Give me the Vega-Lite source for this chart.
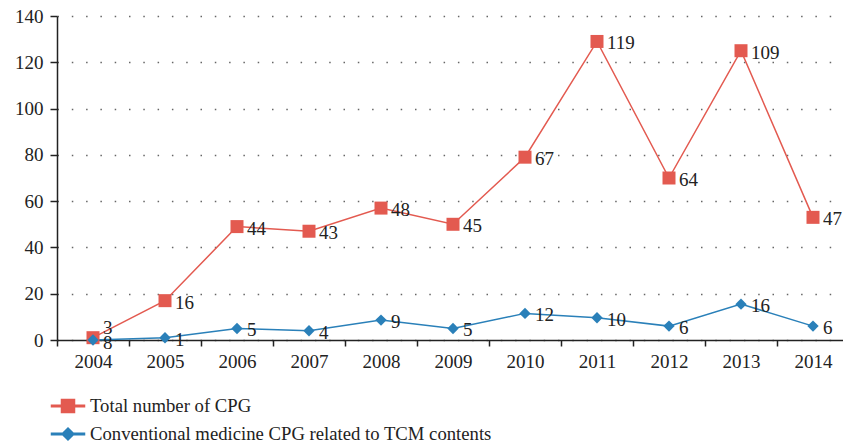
{
  "$schema": "https://vega.github.io/schema/vega-lite/v6.json",
  "width": 786,
  "height": 324,
  "autosize": {"type": "none"},
  "padding": {"left": 57, "top": 16, "right": 0, "bottom": 104},
  "background": "white",
  "config": {"view": {"stroke": null}, "font": "Liberation Serif"},
  "data": {
    "values": [
      {"year": "2004", "series": "Total number of CPG", "plot": 1, "label": "3"},
      {"year": "2005", "series": "Total number of CPG", "plot": 17, "label": "16"},
      {"year": "2006", "series": "Total number of CPG", "plot": 49, "label": "44"},
      {"year": "2007", "series": "Total number of CPG", "plot": 47, "label": "43"},
      {"year": "2008", "series": "Total number of CPG", "plot": 57, "label": "48"},
      {"year": "2009", "series": "Total number of CPG", "plot": 50, "label": "45"},
      {"year": "2010", "series": "Total number of CPG", "plot": 79, "label": "67"},
      {"year": "2011", "series": "Total number of CPG", "plot": 129, "label": "119"},
      {"year": "2012", "series": "Total number of CPG", "plot": 70, "label": "64"},
      {"year": "2013", "series": "Total number of CPG", "plot": 125, "label": "109"},
      {"year": "2014", "series": "Total number of CPG", "plot": 53, "label": "47"},
      {"year": "2004", "series": "Conventional medicine CPG related to TCM contents", "plot": 0, "label": "8"},
      {"year": "2005", "series": "Conventional medicine CPG related to TCM contents", "plot": 1, "label": "1"},
      {"year": "2006", "series": "Conventional medicine CPG related to TCM contents", "plot": 5, "label": "5"},
      {"year": "2007", "series": "Conventional medicine CPG related to TCM contents", "plot": 4, "label": "4"},
      {"year": "2008", "series": "Conventional medicine CPG related to TCM contents", "plot": 8.6, "label": "9"},
      {"year": "2009", "series": "Conventional medicine CPG related to TCM contents", "plot": 5, "label": "5"},
      {"year": "2010", "series": "Conventional medicine CPG related to TCM contents", "plot": 11.5, "label": "12"},
      {"year": "2011", "series": "Conventional medicine CPG related to TCM contents", "plot": 9.6, "label": "10"},
      {"year": "2012", "series": "Conventional medicine CPG related to TCM contents", "plot": 6, "label": "6"},
      {"year": "2013", "series": "Conventional medicine CPG related to TCM contents", "plot": 15.5, "label": "16"},
      {"year": "2014", "series": "Conventional medicine CPG related to TCM contents", "plot": 6, "label": "6"}
    ]
  },
  "encoding": {
    "x": {
      "field": "year",
      "type": "ordinal",
      "scale": {"type": "band", "range": [0, 792], "paddingInner": 0, "paddingOuter": 0},
      "axis": {
        "title": null,
        "labelAngle": 0,
        "domain": true,
        "ticks": true,
        "tickBand": "extent",
        "tickSize": 6,
        "tickColor": "#222",
        "tickWidth": 1.5,
        "domainColor": "#222",
        "domainWidth": 1.5,
        "labelFontSize": 19,
        "labelColor": "#222",
        "labelPadding": 6,
        "grid": false
      }
    },
    "y": {
      "field": "plot",
      "type": "quantitative",
      "scale": {"domain": [0, 140], "nice": false},
      "axis": {
        "title": null,
        "values": [0, 20, 40, 60, 80, 100, 120, 140],
        "domain": true,
        "ticks": true,
        "tickSize": 7,
        "tickColor": "#222",
        "tickWidth": 1.5,
        "domainColor": "#222",
        "domainWidth": 1.5,
        "labelFontSize": 19,
        "labelColor": "#222",
        "labelPadding": 7,
        "grid": true,
        "gridColor": "#666",
        "gridWidth": 1.5,
        "gridDash": [1.5, 12.8]
      }
    },
    "color": {
      "field": "series",
      "type": "nominal",
      "scale": {
        "domain": ["Total number of CPG", "Conventional medicine CPG related to TCM contents"],
        "range": ["#E35A50", "#2A80B9"]
      },
      "legend": {
        "title": null,
        "orient": "none",
        "legendX": 0,
        "legendY": 379,
        "direction": "vertical",
        "padding": 0,
        "symbolSize": 400,
        "symbolOpacity": 1,
        "labelOffset": 11,
        "rowPadding": 7,
        "labelFontSize": 18.7,
        "labelLimit": 0,
        "labelColor": "#222"
      }
    }
  },
  "layer": [
    {"mark": {"type": "line", "strokeWidth": 1.5}, "encoding": {}},
    {
      "transform": [{"filter": "datum.series === 'Total number of CPG'"}],
      "mark": {"type": "point", "filled": true, "opacity": 1, "shape": "square", "size": 169},
      "encoding": {}
    },
    {
      "transform": [{"filter": "datum.series !== 'Total number of CPG'"}],
      "mark": {"type": "point", "filled": true, "opacity": 1, "shape": "diamond", "size": 130},
      "encoding": {}
    },
    {
      "mark": {"type": "point", "filled": true, "opacity": 0, "size": 400},
      "encoding": {
        "shape": {
          "field": "series",
          "type": "nominal",
          "scale": {
            "domain": ["Total number of CPG", "Conventional medicine CPG related to TCM contents"],
            "range": ["M-1.65,-0.08H1.65V0.08H-1.65ZM-0.65,-0.65H0.65V0.65H-0.65Z", "M-1.65,-0.08H1.65V0.08H-1.65ZM0,-0.6L0.6,0L0,0.6L-0.6,0Z"]
          },
          "legend": {
            "title": null,
            "orient": "none",
            "legendX": 0,
            "legendY": 379,
            "direction": "vertical",
            "padding": 0,
            "symbolSize": 400,
            "symbolOpacity": 1,
            "labelOffset": 11,
            "rowPadding": 7,
            "labelFontSize": 18.7,
            "labelLimit": 0,
            "labelColor": "#222"
          }
        }
      }
    },
    {
      "transform": [{"filter": "datum.year !== '2004'"}],
      "mark": {"type": "text", "align": "left", "baseline": "middle", "dx": 10, "dy": 2, "fontSize": 19, "color": "#222"},
      "encoding": {"text": {"field": "label"}, "color": {"value": "#222"}}
    },
    {
      "transform": [{"filter": "datum.year === '2004' && datum.series === 'Total number of CPG'"}],
      "mark": {"type": "text", "align": "left", "baseline": "middle", "dx": 10, "dy": -10, "fontSize": 19, "color": "#222"},
      "encoding": {"text": {"field": "label"}, "color": {"value": "#222"}}
    },
    {
      "transform": [{"filter": "datum.year === '2004' && datum.series !== 'Total number of CPG'"}],
      "mark": {"type": "text", "align": "left", "baseline": "middle", "dx": 10, "dy": 3, "fontSize": 19, "color": "#222"},
      "encoding": {"text": {"field": "label"}, "color": {"value": "#222"}}
    }
  ]
}
